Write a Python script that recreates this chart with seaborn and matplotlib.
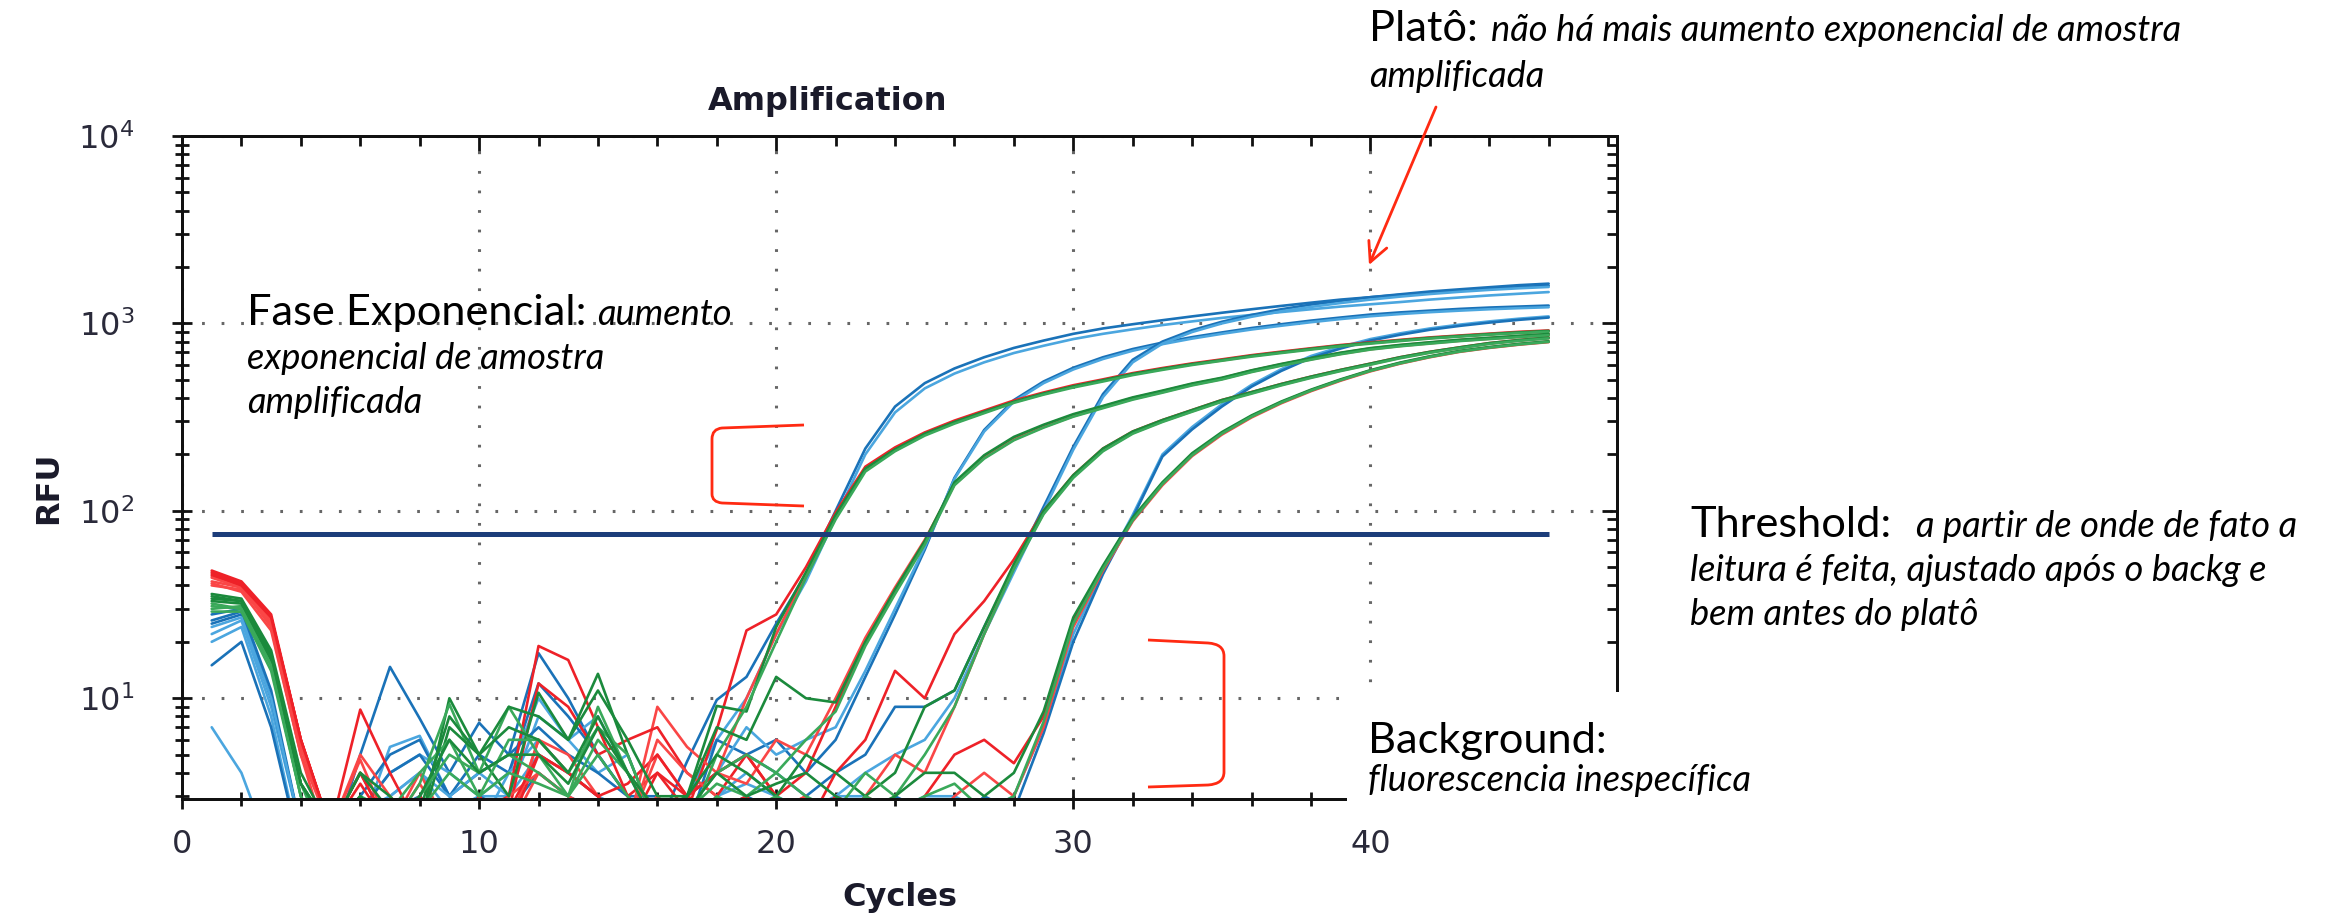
import matplotlib
matplotlib.use("Agg")
import matplotlib.pyplot as plt
from matplotlib.patches import Rectangle, FancyArrowPatch, PathPatch
from matplotlib.path import Path
from matplotlib.ticker import MultipleLocator, LogLocator, NullFormatter
import numpy as np
import pandas as pd
import seaborn as sns

# ---- data (RFU per cycle; below ~3 the trace leaves the axes)
cycles = list(range(1, 47))
threshold = 75

b1a = [28, 30, 11, 2, 1.5, 5, 14.7, 7.8, 4, 7.4, 5, 17.4, 10, 5, 3, 2, 4.6, 9.8, 13, 25,
       46, 100, 215, 360, 480, 575, 660, 740, 810, 880, 940, 990, 1040, 1090, 1140, 1190, 1240, 1290, 1340, 1380,
       1420, 1460, 1500, 1530, 1560, 1590]
b1b = [7, 4, 1.5, 1, 1, 2, 5.5, 6.3, 3, 2, 4, 10, 6, 8, 4, 2, 3, 6, 10, 22,
       42, 92, 200, 335, 450, 540, 620, 695, 760, 825, 880, 930, 980, 1025, 1070, 1110, 1150, 1190, 1230, 1265,
       1300, 1340, 1375, 1410, 1440, 1470]
b2a = [25, 28, 10, 2, 1.5, 3, 5, 6, 3, 5, 4, 12, 8, 5, 3, 3, 2, 6, 5, 6,
       4, 6, 13, 28, 62, 150, 270, 390, 490, 580, 660, 730, 790, 845, 895, 945, 990, 1035, 1075, 1115,
       1145, 1170, 1195, 1215, 1230, 1245]
b2b = [22, 26, 9, 2, 1, 2.5, 4, 5, 4, 3, 3, 8, 6, 4, 5, 2, 3, 4, 7, 5,
       6, 7, 14, 30, 64, 148, 265, 382, 480, 568, 646, 715, 775, 830, 880, 928, 972, 1015, 1055, 1092,
       1122, 1148, 1170, 1190, 1206, 1220]
b3a = [26, 29, 10, 2, 1.5, 2.5, 4, 5, 3, 4, 5, 7, 5, 4, 3, 2, 3, 4, 5, 4,
       3, 4, 5, 9, 9, 11, 24, 50, 105, 220, 420, 640, 800, 920, 1020, 1110, 1190, 1260, 1320, 1380,
       1430, 1480, 1520, 1560, 1600, 1630]
b3b = [20, 24, 8, 1.5, 1, 2, 3, 4, 2.5, 3, 4, 6, 4, 3, 2, 2.5, 2, 3, 4, 3,
       2, 3, 4, 5, 6, 10, 22, 47, 100, 212, 405, 620, 780, 900, 1000, 1085, 1160, 1225, 1285, 1340,
       1390, 1435, 1475, 1510, 1540, 1565]
b4a = [24, 27, 10, 2, 1.5, 2.5, 3, 4, 3, 4, 3, 5, 4, 3, 2.5, 2, 2, 3, 3.5, 3,
       2.5, 3, 3, 2.5, 3, 3, 2.5, 3, 7, 22, 48, 95, 200, 280, 370, 470, 570, 670, 750, 825,
       885, 940, 985, 1025, 1060, 1090]
b4b = [15, 20, 7, 1.5, 1, 2, 2.5, 3, 2, 3, 2.5, 4, 3, 2.5, 2, 1.5, 2, 2.5, 3, 2.5,
       2, 2.5, 2, 3, 2.5, 2, 3, 2.5, 6.5, 20, 46, 92, 195, 272, 360, 460, 558, 655, 735, 810,
       870, 925, 970, 1010, 1045, 1075]

r1a = [48, 42, 28, 6, 2, 8.7, 4, 2, 1.5, 2.5, 3, 19, 16, 7, 3, 4, 2.5, 6.8, 23, 28,
       50, 98, 172, 218, 262, 303, 343, 388, 428, 468, 503, 543, 578, 612, 643, 677, 707, 737, 767, 792,
       817, 842, 862, 882, 902, 917]
r1b = [40, 38, 25, 5.5, 2, 4.7, 2, 3.5, 2, 1.5, 2, 6, 5, 3, 2, 9, 5.5, 4, 10, 22,
       46, 93, 165, 210, 255, 295, 335, 380, 420, 460, 495, 535, 570, 605, 635, 670, 700, 730, 760, 785,
       810, 835, 855, 875, 893, 908]
r2a = [45, 40, 27, 6, 2, 4, 2, 3, 2, 1.5, 2.5, 12, 9, 5, 6, 7, 4, 3, 5, 3,
       4, 9, 20, 37, 68, 140, 195, 245, 285, 325, 360, 400, 435, 475, 510, 560, 605, 650, 695, 735,
       765, 790, 815, 835, 855, 875]
r2b = [42, 39, 24, 5, 2, 5, 3, 2, 1.5, 3, 2, 6, 4, 3, 2, 5, 3, 4, 3.5, 6,
       5, 10, 21, 39, 70, 138, 192, 240, 280, 320, 356, 395, 430, 470, 505, 553, 598, 643, 688, 728,
       758, 783, 808, 828, 848, 868]
r3a = [47, 41, 27, 6, 2, 4, 2, 2, 1.5, 3, 2, 5, 4, 3, 3.5, 5, 3, 4, 5, 3,
       2, 4, 6, 14, 10, 22, 33, 55, 100, 155, 215, 265, 305, 345, 390, 430, 475, 520, 565, 610,
       660, 705, 745, 785, 815, 840]
r3b = [44, 39, 26, 5.5, 2, 3, 2, 4, 2, 2, 3, 4, 3, 2, 2, 6, 4, 3, 2, 2.5,
       3, 2, 3, 5, 4, 9, 22, 50, 97, 152, 210, 260, 300, 340, 385, 425, 470, 515, 560, 605,
       655, 700, 740, 780, 810, 835]
r4a = [46, 40, 27, 6, 2, 3.5, 2, 2, 1.5, 2, 2.5, 5, 4, 3, 2, 4, 3, 2.5, 3, 2,
       2, 3, 2.5, 2, 3, 5, 6, 4.5, 8, 26, 50, 90, 140, 200, 260, 320, 380, 440, 500, 560,
       615, 665, 710, 745, 775, 800]
r4b = [41, 37, 23, 5, 1.5, 3, 1.5, 2.5, 2, 1.5, 2, 4, 3, 2.5, 2, 3, 2, 3, 2, 2.5,
       3, 2, 3, 2.5, 2, 3, 4, 3, 7, 24, 48, 88, 137, 196, 255, 315, 375, 435, 495, 555,
       610, 660, 705, 740, 770, 795]

g1a = [36, 34, 18, 4, 2, 4, 2.5, 2, 10, 5, 3, 10.7, 6, 13.5, 5, 2, 3, 9.1, 8.5, 24,
       47, 95, 168, 213, 258, 298, 338, 382, 423, 462, 498, 538, 573, 607, 638, 672, 702, 732, 762, 787,
       812, 837, 857, 877, 896, 912]
g1b = [30, 31, 16, 3.5, 1.5, 3, 2, 3.5, 9.3, 4, 9, 5, 3, 9, 4, 2.5, 2, 5, 9, 20,
       44, 90, 162, 208, 252, 292, 332, 377, 417, 455, 490, 530, 565, 600, 632, 665, 695, 725, 755, 780,
       805, 830, 850, 870, 888, 903]
g2a = [34, 33, 17, 3.5, 2, 4, 3, 2, 7, 5, 9, 8, 6, 11, 6, 3, 3, 7, 6, 13,
       10, 9.5, 20, 38, 69, 142, 198, 248, 288, 328, 363, 403, 438, 478, 513, 562, 608, 653, 698, 738,
       768, 793, 818, 838, 858, 878]
g2b = [32, 30, 15, 3, 1.5, 3, 2.5, 4, 6, 3, 6, 6, 4, 7, 5, 2, 2.5, 4, 5, 4,
       6, 8.5, 19, 36, 66, 137, 190, 238, 278, 318, 353, 392, 427, 467, 502, 550, 595, 640, 685, 725,
       755, 780, 805, 825, 845, 865]
g3a = [33, 32, 16, 3.5, 2, 3, 2, 2.5, 8, 5, 7, 6, 4, 8, 4, 2.5, 3, 5, 4, 3,
       5, 4, 3, 4, 9, 11, 24, 52, 100, 155, 215, 265, 305, 345, 390, 430, 475, 520, 565, 610,
       660, 705, 745, 785, 815, 840]
g3b = [31, 30, 15, 3, 1.5, 2.5, 2, 3, 5, 4, 5, 4, 3, 6, 4, 2, 2.5, 3.5, 3, 4,
       3, 2.5, 4, 3, 5, 9, 22, 49, 96, 150, 208, 258, 298, 338, 382, 422, 467, 512, 557, 602,
       652, 697, 737, 777, 807, 832]
g4a = [35, 33, 17, 3.5, 2, 3, 2, 3, 6, 4, 5, 5, 3.5, 7, 4, 2, 2.5, 4, 3, 3.5,
       4, 3, 2.5, 3, 4, 4, 3, 4, 8.5, 27, 51, 92, 142, 203, 263, 323, 383, 443, 503, 563,
       618, 668, 713, 748, 778, 803]
g4b = [29, 29, 14, 3, 1.5, 2.5, 2, 2.5, 4, 3, 4, 3.5, 3, 5, 3, 2, 2, 3, 2.5, 3,
       2.5, 2, 3, 2.5, 3, 3.5, 2.5, 3, 7.5, 25, 49, 89, 139, 198, 258, 318, 378, 438, 498, 558,
       612, 662, 707, 742, 772, 797]

BLUE_D, BLUE_L = "#1a72b8", "#4ba6df"
RED_A, RED_B = "#ee2128", "#fa4646"
GREEN_D, GREEN_L = "#1b8a3c", "#3aa95a"

wells = {
    "b1a": (b1a, BLUE_D), "b1b": (b1b, BLUE_L), "b2a": (b2a, BLUE_D), "b2b": (b2b, BLUE_L),
    "b3a": (b3a, BLUE_D), "b3b": (b3b, BLUE_L), "b4a": (b4a, BLUE_L), "b4b": (b4b, BLUE_D),
    "r1a": (r1a, RED_A), "r1b": (r1b, RED_B), "r2a": (r2a, RED_A), "r2b": (r2b, RED_B),
    "r3a": (r3a, RED_A), "r3b": (r3b, RED_B), "r4a": (r4a, RED_A), "r4b": (r4b, RED_B),
    "g1a": (g1a, GREEN_D), "g1b": (g1b, GREEN_L), "g2a": (g2a, GREEN_D), "g2b": (g2b, GREEN_L),
    "g3a": (g3a, GREEN_D), "g3b": (g3b, GREEN_L), "g4a": (g4a, GREEN_D), "g4b": (g4b, GREEN_L),
}

rows = []
for well, (vals, _) in wells.items():
    for c, v in zip(cycles, vals):
        rows.append((well, c, v))
df = pd.DataFrame(rows, columns=["well", "cycle", "rfu"])
palette = {w: col for w, (_, col) in wells.items()}

# ---- figure
sns.set_style("white")
plt.rcParams["font.family"] = ["DejaVu Sans"]
W, H = 2330, 915
fig = plt.figure(figsize=(W / 100, H / 100), dpi=100)
ax = fig.add_axes([182 / W, 1 - 799 / H, (1617 - 182) / W, (799 - 136) / H])

sns.lineplot(data=df, x="cycle", y="rfu", hue="well", hue_order=list(wells), palette=palette,
             estimator=None, errorbar=None, legend=False, lw=1.9, ax=ax)
ax.hlines(threshold, cycles[0], cycles[-1], color="#1c3d7a", lw=3.6, zorder=4)

ax.set_yscale("log")
ax.set_xlim(0, 48.3)
ax.set_ylim(2.9, 1e4)
ax.xaxis.set_major_locator(MultipleLocator(10))
ax.xaxis.set_minor_locator(MultipleLocator(2))
ax.yaxis.set_major_locator(LogLocator(base=10))
ax.yaxis.set_minor_locator(LogLocator(base=10, subs=np.arange(2, 10)))
ax.yaxis.set_minor_formatter(NullFormatter())
ax.grid(True, which="major", color="#666666", lw=2.2, ls=(0, (0.9, 5.5)))

ax.tick_params(which="both", direction="inout", bottom=True, left=True, top=False, right=False,
               width=2, color="#111111")
ax.tick_params(which="major", length=15)
ax.tick_params(which="minor", length=10)
ax.tick_params(axis="x", which="major", pad=14, labelsize=23, labelcolor="#2a2a3a")
ax.tick_params(axis="y", which="major", pad=27, labelsize=23, labelcolor="#2a2a3a")

# inward ticks on the top and right frame
axr = ax.twinx()
axr.set_yscale("log")
axr.set_ylim(ax.get_ylim())
axr.yaxis.set_major_locator(LogLocator(base=10))
axr.yaxis.set_minor_locator(LogLocator(base=10, subs=np.arange(2, 10)))
axr.tick_params(which="both", direction="in", right=True, labelright=False, width=2, color="#111111")
axr.tick_params(which="major", length=11)
axr.tick_params(which="minor", length=7)
axt = ax.twiny()
axt.set_xlim(ax.get_xlim())
axt.xaxis.set_major_locator(MultipleLocator(10))
axt.xaxis.set_minor_locator(MultipleLocator(2))
axt.tick_params(which="both", direction="in", top=True, labeltop=False, width=2, color="#111111")
axt.tick_params(which="major", length=11)
axt.tick_params(which="minor", length=7)
for a in (ax, axr, axt):
    for s in a.spines.values():
        s.set_linewidth(2)
        s.set_color("#111111")

ax.set_xlabel("Cycles", fontsize=23, fontweight="bold", color="#1a1a2a")
ax.xaxis.set_label_coords(0.5, -0.125)
ax.set_ylabel("RFU", fontsize=23, fontweight="bold", color="#1a1a2a")
ax.yaxis.set_label_coords(-0.082, 0.469)
fig.text(828 / W, 1 - 110 / H, "Amplification", ha="center", va="baseline",
         fontsize=23, fontweight="bold", color="#1a1a2a")

# ---- annotations
RED = "#ff2a12"
NOTE_FONT = "Lato"
fig.add_artist(Rectangle((1347 / W, 1 - 825 / H), (W - 1347) / W, (825 - 692) / H,
                         transform=fig.transFigure, facecolor="white", edgecolor="none", zorder=5))

renderer = fig.canvas.get_renderer()


def width_at(s, size, style):
    t = fig.text(0, 0, s, fontsize=size, family=NOTE_FONT, style=style)
    w = t.get_window_extent(renderer).width
    t.remove()
    return w


head_size = 20 * 202 / width_at("Threshold:", 20, "normal")
body_size = 20 * 175 / width_at("amplificada", 20, "italic")


def note(x, y, head, first, rest, gap, lead):
    kw = dict(family=NOTE_FONT, va="baseline", zorder=6, color="black")
    t = fig.text(x / W, 1 - y / H, head, fontsize=head_size, **kw)
    if first:
        x1 = t.get_window_extent(renderer).x1
        fig.text((x1 + gap) / W, 1 - y / H, first, fontsize=body_size, style="italic", **kw)
    for i, line in enumerate(rest, 1):
        fig.text(x / W, 1 - (y + i * lead) / H, line, fontsize=body_size, style="italic", **kw)


note(1369, 41, "Platô:", "não há mais aumento exponencial de amostra", ["amplificada"], 13, 46)
note(247, 325, "Fase Exponencial:", "aumento", ["exponencial de amostra", "amplificada"], 11, 44)
note(1690, 537, "Threshold:", "a partir de onde de fato a",
     ["leitura é feita, ajustado após o backg e", "bem antes do platô"], 25, 44)
note(1368, 753, "Background:", None, ["fluorescencia inespecífica"], 0, 38)


def bracket(pts):
    verts = [(x / W, 1 - y / H) for x, y in pts]
    codes = [Path.MOVETO, Path.LINETO, Path.CURVE3, Path.CURVE3, Path.LINETO,
             Path.CURVE3, Path.CURVE3, Path.LINETO]
    fig.add_artist(PathPatch(Path(verts, codes), transform=fig.transFigure, fill=False,
                             edgecolor=RED, lw=2, zorder=6))


bracket([(804, 425), (722, 428), (712, 429), (712, 439), (712, 494), (712, 502), (722, 503), (804, 506)])
bracket([(1148, 640), (1208, 643), (1224, 644), (1224, 656), (1224, 772), (1224, 784), (1208, 785), (1148, 787)])

fig.add_artist(FancyArrowPatch((1436 / W, 1 - 107 / H), (1369 / W, 1 - 265 / H),
                               transform=fig.transFigure, arrowstyle="->,head_length=0.5,head_width=0.25",
                               mutation_scale=28, color=RED, lw=2, shrinkA=0, shrinkB=0, zorder=6))

fig.savefig("out.png", dpi=100)
